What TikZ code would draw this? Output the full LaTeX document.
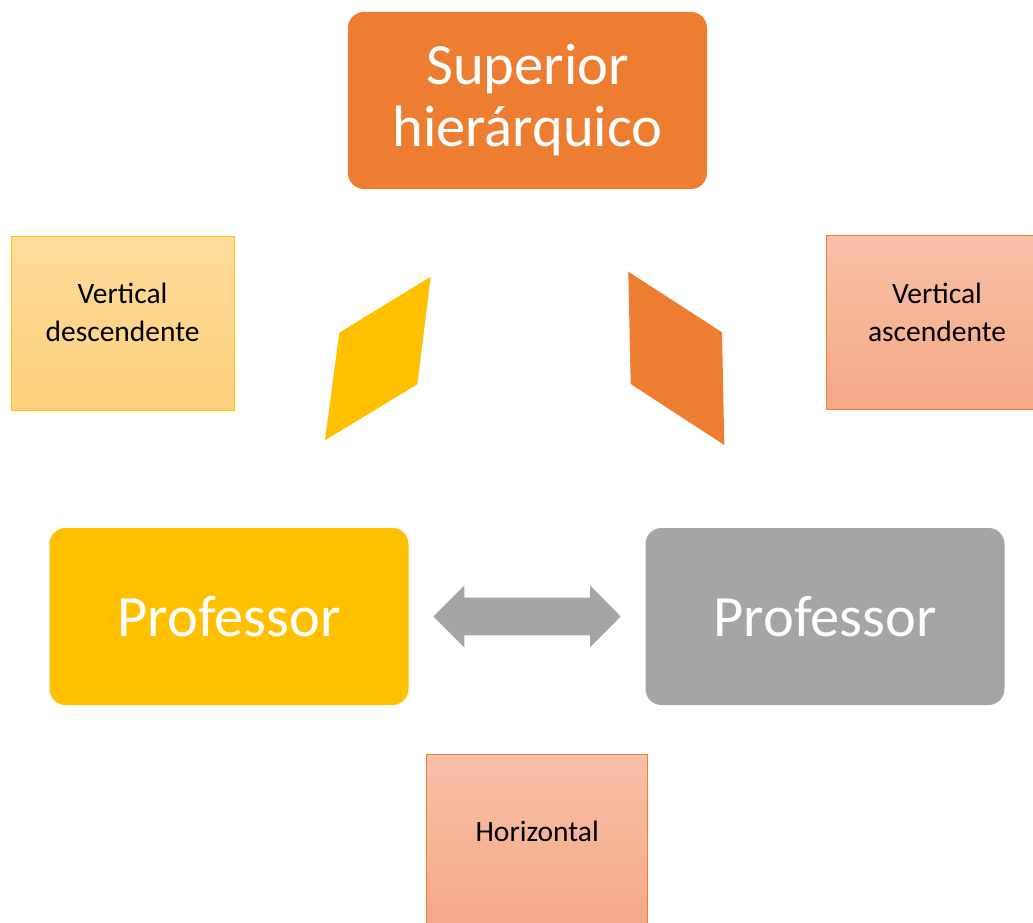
\documentclass[tikz,border=0pt]{standalone}
\usepackage{fontspec}
\setmainfont{Carlito}
\definecolor{corange}{HTML}{ED7D31}
\definecolor{cyellow}{HTML}{FFC000}
\definecolor{cgray}{HTML}{A5A5A5}
\definecolor{ytop}{HTML}{FEDC9C}
\definecolor{ybot}{HTML}{FDD17C}
\definecolor{otop}{HTML}{F8C0A8}
\definecolor{obot}{HTML}{F4A886}
\begin{document}
\begin{tikzpicture}[x=1pt,y=-1pt,
  bigbox/.style={rounded corners=16pt, minimum width=359pt, minimum height=177pt, inner sep=0pt, text=white, font=\fontsize{58.5}{62}\selectfont, align=center},
  smallbox/.style={minimum width=223pt, minimum height=174pt, inner sep=0pt, line width=1pt},
  smalltext/.style={font=\fontsize{29.5}{38}\selectfont, align=center, text=black}]
\useasboundingbox (0,0) rectangle (1033,923);
\begin{scope}
\clip (0,0) rectangle (1033,923);
% side boxes
\node[smallbox, draw=cyellow, top color=ytop, bottom color=ybot] (vd) at (122.6,323) {};
\node[smalltext] (vdt) at (122.6,312) {Vertical\\descendente};
\node[smallbox, draw=corange, top color=otop, bottom color=obot] (va) at (938.2,322.5) {};
\node[smalltext] (vat) at (937,312) {Vertical\\ascendente};
\node[smallbox, minimum width=221pt, draw=corange, top color=otop, bottom color=obot] (ho) at (537.2,841.5) {};
\node[smalltext] (hot) at (537.2,831) {Horizontal};
\end{scope}
% main boxes
\node[bigbox, fill=corange] (sup) at (527.5,100.5) {Superior\\hierárquico};
\node[bigbox, fill=cyellow] (p1) at (229,616.5) {Professor};
\node[bigbox, fill=cgray] (p2) at (825,616.5) {Professor};
% parallelograms
\fill[cyellow] (430.7,276.7) -- (339.3,332.7) -- (325,440.3) -- (417.3,384.3) -- cycle;
\fill[corange] (628.3,271.7) -- (722,332.3) -- (724.3,445) -- (630.7,384) -- cycle;
% double arrow
\coordinate (al) at (433.3,616.5);
\coordinate (ar) at (620.7,616.5);
\fill[cgray] (al) -- ++(31,-31) -- ++(0,12.2) -- (590,597.5) -- ++(0,-12.2) -- (ar)
  -- (590,647.5) -- ++(0,-12.2) -- (464.3,635.3) -- ++(0,12.2) -- cycle;
\end{tikzpicture}
\end{document}
